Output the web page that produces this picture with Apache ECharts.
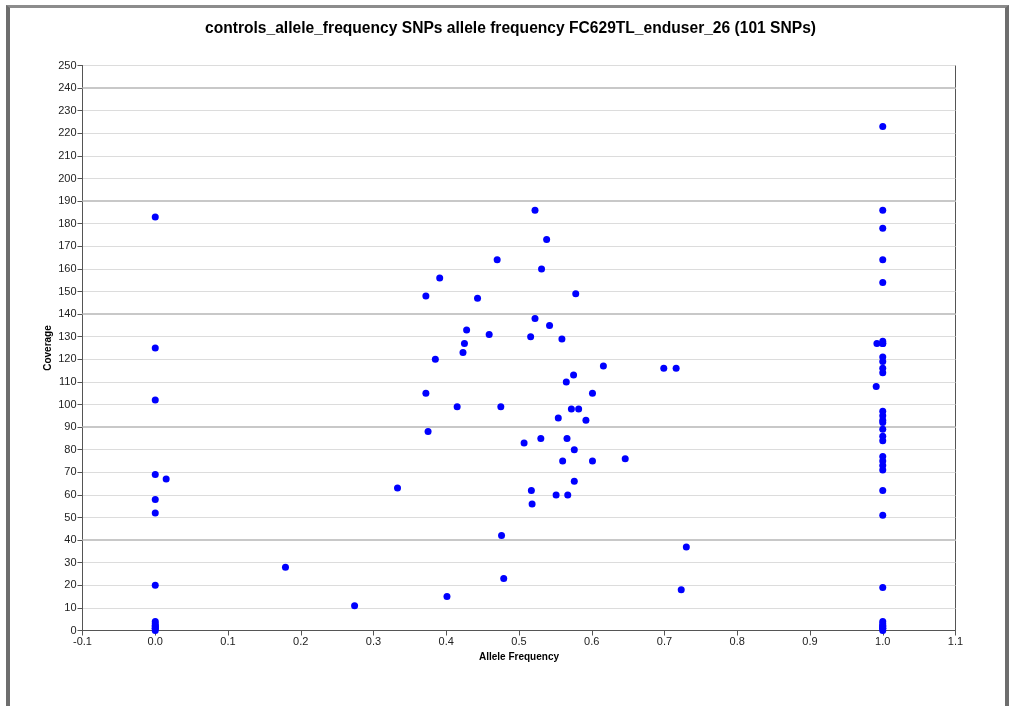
<!DOCTYPE html>
<html>
<head>
<meta charset="utf-8">
<script src="https://cdn.jsdelivr.net/npm/echarts@6/dist/echarts.min.js"></script>
<style>
  html, body { margin: 0; padding: 0; background: #fff; }
  #frame {
    position: absolute; left: 6px; top: 5px; width: 995px; height: 720px;
    border-top: 3px solid #8c8c8c; border-left: 4px solid #6e6e6e; border-right: 4px solid #6e6e6e;
  }
  #chart { position: absolute; left: 0; top: 0; width: 1009px; height: 706px; }
</style>
</head>
<body>
<div id="frame"></div>
<div id="chart"></div>
<script>
// SNP allele frequency vs coverage (101 SNPs)
var alleleFreq = [
  // homozygous ref
  0, 0, 0, 0, 0, 0, 0, 0, 0, 0, 0, 0, 0, 0, 0.015,
  // middle
  0.470, 0.391, 0.372, 0.443, 0.428, 0.459, 0.425, 0.423, 0.385, 0.372, 0.415, 0.475, 0.375,
  0.522, 0.538, 0.531, 0.578, 0.522, 0.542, 0.516, 0.559, 0.616, 0.575, 0.565, 0.601, 0.572, 0.582,
  0.554, 0.592, 0.507, 0.530, 0.566, 0.576, 0.560, 0.601, 0.646, 0.576, 0.517, 0.551, 0.567, 0.518,
  0.333, 0.476, 0.179, 0.479, 0.401, 0.274, 0.699, 0.716, 0.730, 0.723,
  // homozygous alt
  1, 1, 1, 1, 1, 1, 1, 1, 0.992, 1, 1, 1, 1, 0.991, 1, 1, 1, 1, 1, 1, 1,
  1, 1, 1, 1, 1, 1, 1, 1, 1, 1, 1, 1, 1, 1
];
var coverage = [
  183, 125, 102, 69, 58, 52, 20, 4, 3, 2, 2, 1, 1, 0, 67,
  164, 156, 148, 147, 133, 131, 127, 123, 120, 105, 99, 99, 88,
  186, 173, 160, 149, 138, 135, 130, 129, 117, 113, 110, 105, 98, 98,
  94, 93, 83, 85, 85, 80, 75, 75, 76, 66, 62, 60, 60, 56,
  63, 42, 28, 23, 15, 11, 116, 116, 37, 18,
  223, 186, 178, 164, 154, 128, 127, 127, 127, 121, 119, 116, 114, 108, 97, 95, 93, 92, 89, 86, 84,
  77, 75, 73, 71, 62, 51, 19, 4, 3, 2, 2, 1, 1, 0
];
var majorGrid = [40, 90, 140, 190, 240];

var points = [];
for (var i = 0; i < alleleFreq.length; i++) {
  points.push([alleleFreq[i], coverage[i]]);
}

var chart = echarts.init(document.getElementById('chart'));
var option = {
  animation: false,
  title: {
    text: 'controls_allele_frequency SNPs allele frequency FC629TL_enduser_26 (101 SNPs)',
    left: 200,
    top: 16,
    textStyle: { fontFamily: 'Liberation Sans', fontSize: 15.6, fontWeight: 'bold', color: '#000' }
  },
  grid: {
    left: 82.5,
    right: 53.5,
    top: 65.5,
    bottom: 75.5,
    show: true,
    borderColor: '#555',
    borderWidth: 1
  },
  xAxis: {
    type: 'value',
    min: -0.1,
    max: 1.1,
    interval: 0.1,
    name: 'Allele Frequency',
    nameLocation: 'middle',
    nameGap: 22,
    nameTextStyle: { fontFamily: 'Liberation Sans', fontSize: 10, fontWeight: 'bold', color: '#000' },
    axisLine: { onZero: false, lineStyle: { color: '#555' } },
    axisTick: { show: true, length: 5, lineStyle: { color: '#555' } },
    axisLabel: {
      color: '#222', fontFamily: 'Liberation Sans', fontSize: 11, margin: 6,
      formatter: function (v) { return (Math.round(v * 10) / 10).toFixed(1); }
    },
    splitLine: { show: false }
  },
  yAxis: {
    type: 'value',
    min: 0,
    max: 250,
    interval: 10,
    name: 'Coverage',
    nameLocation: 'middle',
    nameGap: 29,
    nameMoveOverlap: false,
    nameTextStyle: { fontFamily: 'Liberation Sans', fontSize: 10, fontWeight: 'bold', color: '#000' },
    axisLine: { show: true, onZero: false, lineStyle: { color: '#555' } },
    axisTick: { show: true, length: 5, lineStyle: { color: '#555' } },
    axisLabel: { color: '#222', fontFamily: 'Liberation Sans', fontSize: 11, margin: 6 },
    splitLine: { show: true, lineStyle: { color: '#dcdcdc', width: 1 } }
  },
  series: [{
    type: 'scatter',
    data: points,
    symbol: 'circle',
    symbolSize: 7,
    itemStyle: { color: '#0000ff', opacity: 1 },
    markLine: {
      silent: true,
      symbol: 'none',
      label: { show: false },
      lineStyle: { color: '#c8c8c8', width: 2, type: 'solid' },
      z: 1,
      data: majorGrid.map(function (v) { return { yAxis: v }; })
    }
  }]
};
chart.setOption(option);
</script>
</body>
</html>
